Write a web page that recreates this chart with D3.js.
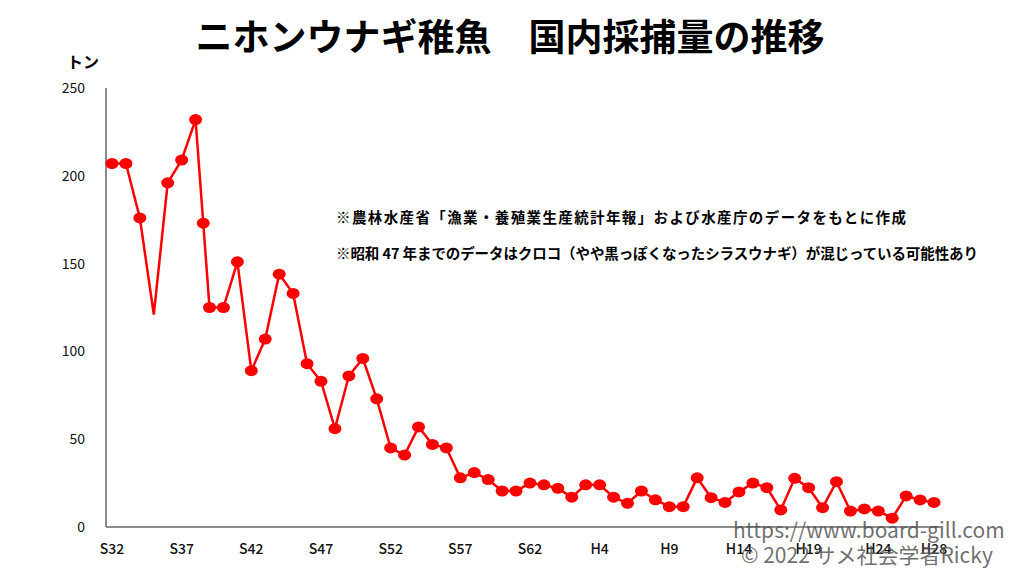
<!DOCTYPE html>
<html>
<head>
<meta charset="utf-8">
<script src="https://cdn.jsdelivr.net/npm/d3@7"></script>
<style>
  body { margin: 0; background: #fff; }
  svg { display: block; }
  text { font-family: "Noto Sans CJK JP", "Noto Sans", sans-serif; }
</style>
</head>
<body>
<svg id="chart" width="1024" height="578"></svg>
<script>
// years (fractional 1963.55 is the odd extra point in the original)
let years = [1957, 1958, 1959, 1960, 1961, 1962, 1963, 1963.55, 1964, 1965,
  1966, 1967, 1968, 1969, 1970, 1971, 1972, 1973, 1974, 1975,
  1976, 1977, 1978, 1979, 1980, 1981, 1982, 1983, 1984, 1985,
  1986, 1987, 1988, 1989, 1990, 1991, 1992, 1993, 1994, 1995,
  1996, 1997, 1998, 1999, 2000, 2001, 2002, 2003, 2004, 2005,
  2006, 2007, 2008, 2009, 2010, 2011, 2012, 2013, 2014, 2015, 2016];
// catch in tonnes
let catchTon = [207, 207, 176, 121, 196, 209, 232, 173, 125, 125,
  151, 89, 107, 144, 133, 93, 83, 56, 86, 96,
  73, 45, 41, 57, 47, 45, 28, 31, 27, 20.5,
  20.5, 25, 24, 22, 17, 24, 24, 17, 13.5, 20.5,
  15.5, 11.6, 11.6, 28, 16.7, 14, 20, 25, 22.4, 9.7,
  27.7, 22.4, 11, 25.8, 9.1, 10.3, 9.1, 5, 17.7, 15.4, 14];
// year drawn without a marker
let noMarker = [1960];

let tickYears = [1957, 1962, 1967, 1972, 1977, 1982, 1987, 1992, 1997, 2002, 2007, 2012, 2016];
let tickNames = ['S32', 'S37', 'S42', 'S47', 'S52', 'S57', 'S62', 'H4', 'H9', 'H14', 'H19', 'H24', 'H28'];
let yTicks = [0, 50, 100, 150, 200, 250];

let notes = [
  '※農林水産省「漁業・養殖業生産統計年報」および水産庁のデータをもとに作成',
  '※昭和 47 年までのデータはクロコ（やや黒っぽくなったシラスウナギ）が混じっている可能性あり'
];

let data = years.map(function(d, i){ return {year: d, v: catchTon[i]}; });

let svg = d3.select('#chart');

let x = d3.scaleLinear()
    .domain([1956.57, 2016.5])
    .range([106, 941]);

let y = d3.scaleLinear()
    .domain([0, 250])
    .range([527, 88]);

// title
svg.append('text')
    .attr('x', 510)
    .attr('y', 51)
    .attr('text-anchor', 'middle')
    .attr('font-size', 37)
    .attr('font-weight', 'bold')
    .style('white-space', 'pre')
    .text('ニホンウナギ稚魚　国内採捕量の推移');

// unit
svg.append('text')
    .attr('x', 67)
    .attr('y', 68)
    .attr('font-size', 16)
    .attr('font-weight', 'bold')
    .text('トン');

// y tick labels
svg.append('g')
  .selectAll('text')
  .data(yTicks)
  .enter().append('text')
    .attr('x', 85)
    .attr('y', function(d){ return y(d) + 5; })
    .attr('text-anchor', 'end')
    .attr('font-family', '"Liberation Sans", Arial, sans-serif')
    .attr('font-size', 14)
    .attr('fill', '#111')
    .text(function(d){ return d; });

// x tick labels
svg.append('g')
  .selectAll('text')
  .data(tickYears)
  .enter().append('text')
    .attr('x', function(d){ return x(d); })
    .attr('y', 554)
    .attr('text-anchor', 'middle')
    .attr('font-size', 14)
    .attr('font-weight', 500)
    .attr('fill', '#111')
    .text(function(d, i){ return tickNames[i]; });

// axes lines
svg.append('line')
    .attr('x1', x.range()[0]).attr('x2', x.range()[0])
    .attr('y1', y(250)).attr('y2', y(0))
    .attr('stroke', '#8c8c8c')
    .attr('stroke-width', 2);
svg.append('line')
    .attr('x1', x.range()[0]).attr('x2', x.range()[1])
    .attr('y1', y(0)).attr('y2', y(0))
    .attr('stroke', '#8c8c8c')
    .attr('stroke-width', 2);

// notes (widths stretched to match the original's wider glyphs)
let noteWidth = [570, 642];
svg.append('g')
  .selectAll('text')
  .data(notes)
  .enter().append('text')
    .attr('x', 336)
    .attr('y', function(d, i){ return 223 + i * 36; })
    .attr('font-size', 14.5)
    .attr('font-weight', 'bold')
    .attr('textLength', function(d, i){ return noteWidth[i]; })
    .attr('lengthAdjust', 'spacing')
    .style('white-space', 'pre')
    .text(function(d){ return d; });

// line
let line = d3.line()
    .x(function(d){ return x(d.year); })
    .y(function(d){ return y(d.v); });

svg.append('path')
    .datum(data)
    .attr('fill', 'none')
    .attr('stroke', '#ff0000')
    .attr('stroke-width', 2.5)
    .attr('stroke-linejoin', 'miter')
    .attr('d', line);

svg.append('g')
  .selectAll('ellipse')
  .data(data.filter(function(d){ return noMarker.indexOf(d.year) < 0; }))
  .enter().append('ellipse')
    .attr('cx', function(d){ return x(d.year); })
    .attr('cy', function(d){ return y(d.v); })
    .attr('rx', 6.5)
    .attr('ry', 5.5)
    .attr('fill', '#ff0000');

// watermark
svg.append('text')
    .attr('x', 733)
    .attr('y', 538)
    .attr('font-family', '"Liberation Serif", serif')
    .attr('font-size', 21)
    .attr('fill', '#555')
    .attr('fill-opacity', 0.85)
    .text('https://www.board-gill.com');
svg.append('text')
    .attr('x', 741)
    .attr('y', 563)
    .attr('font-size', 21)
    .attr('fill', '#555')
    .attr('fill-opacity', 0.85)
    .text('© 2022 サメ社会学者Ricky');
</script>
</body>
</html>
